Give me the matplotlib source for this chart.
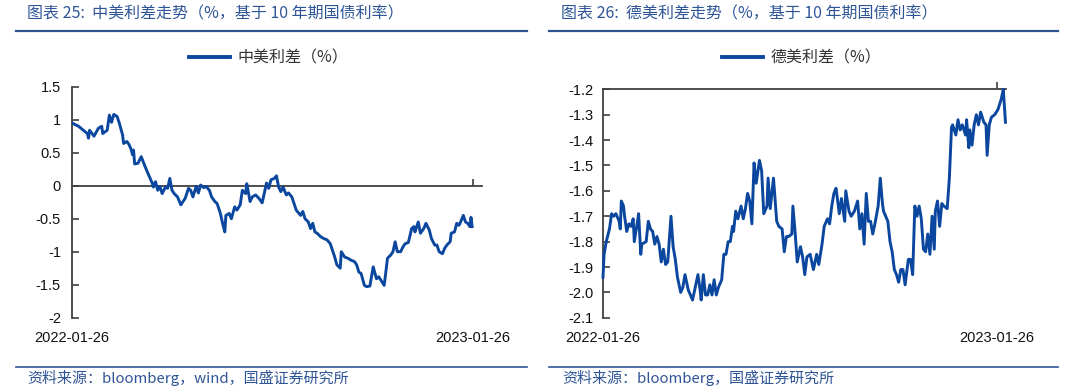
import numpy as np
import pandas as pd
import matplotlib
matplotlib.use("Agg")
import matplotlib.pyplot as plt
import matplotlib.dates as mdates
from matplotlib.lines import Line2D
from matplotlib.ticker import FuncFormatter

plt.rcParams['font.family'] = ['Noto Sans CJK SC', 'DejaVu Sans']
plt.rcParams['axes.unicode_minus'] = False

start = pd.Timestamp("2022-01-26")
end = pd.Timestamp("2023-01-26")

# 中美利差: days since 2022-01-26, spread (%)
cn_days = [0, 6, 14, 15, 16, 20, 24, 27, 28, 32, 34, 36, 38, 41, 43, 46, 47, 50, 52, 54,
           55, 56, 57, 60, 63, 66, 69, 73, 74, 76, 78, 80, 82, 85, 87, 89, 91, 93, 96, 99,
           103, 106, 108, 110, 113, 115, 117, 120, 122, 125, 127, 130, 132, 135, 137, 139, 140, 143, 145, 148,
           150, 153, 155, 158, 159, 162, 164, 167, 170, 173, 177, 179, 181, 184, 186, 188, 190, 192, 195, 197,
           200, 202, 204, 208, 210, 212, 215, 217, 219, 221, 223, 226, 229, 232, 235, 237, 239, 241, 244, 245,
           248, 251, 254, 257, 259, 261, 263, 266, 268, 271, 273, 274, 277, 279, 281, 284, 285, 287, 290, 292,
           294, 296, 299, 301, 303, 306, 309, 311, 312, 315, 317, 320, 322, 325, 327, 330, 332, 334, 337, 339,
           341, 344, 345, 348, 350, 352, 353, 356, 358, 360, 362, 363, 364]
cn_vals = [0.95, 0.90, 0.79, 0.72, 0.84, 0.75, 0.87, 0.90, 0.79, 0.84, 1.07, 0.96, 1.08, 1.05, 0.95, 0.77, 0.64, 0.67, 0.62, 0.54,
           0.47, 0.54, 0.33, 0.34, 0.44, 0.31, 0.19, 0.04, -0.02, 0.06, -0.07, -0.01, -0.12, -0.02, -0.04, 0.11, -0.07, -0.12, -0.17, -0.29,
           -0.19, -0.04, -0.07, -0.17, -0.01, -0.11, 0.01, -0.03, -0.01, -0.07, -0.17, -0.24, -0.27, -0.42, -0.57, -0.70, -0.45, -0.42, -0.50, -0.32,
           -0.37, -0.29, -0.07, -0.12, 0.03, -0.24, -0.17, -0.14, -0.19, -0.26, 0.04, -0.04, 0.09, 0.11, 0.15, -0.02, -0.09, -0.02, -0.14, -0.11,
           -0.17, -0.27, -0.37, -0.45, -0.39, -0.50, -0.55, -0.65, -0.57, -0.70, -0.72, -0.77, -0.80, -0.82, -0.88, -0.98, -1.08, -1.20, -1.25, -1.00,
           -1.08, -1.10, -1.13, -1.15, -1.20, -1.31, -1.33, -1.51, -1.53, -1.52, -1.33, -1.23, -1.41, -1.38, -1.43, -1.51, -1.38, -1.10, -1.05, -1.00,
           -0.85, -1.00, -1.00, -0.93, -0.88, -0.86, -0.65, -0.62, -0.70, -0.55, -0.72, -0.65, -0.57, -0.67, -0.80, -0.90, -0.90, -1.00, -1.03, -0.95,
           -0.90, -0.85, -0.72, -0.70, -0.57, -0.60, -0.57, -0.45, -0.55, -0.57, -0.62, -0.48, -0.62]

# 德美利差: days since 2022-01-26, spread (%)
de_days = [0, 1, 3, 6, 8, 10, 12, 15, 16, 17, 19, 20, 22, 24, 26, 28, 29, 32, 33, 35,
           36, 40, 42, 44, 46, 48, 50, 52, 54, 56, 58, 60, 63, 65, 67, 69, 72, 74, 76, 79,
           81, 83, 86, 88, 90, 91, 93, 95, 97, 99, 101, 103, 105, 107, 110, 112, 114, 116, 118, 120,
           121, 123, 125, 128, 130, 132, 134, 136, 138, 140, 142, 145, 147, 149, 152, 153, 155, 158, 161, 163,
           166, 168, 170, 172, 175, 176, 178, 180, 183, 185, 187, 189, 192, 195, 198, 200, 203, 205, 208, 210,
           212, 214, 216, 219, 221, 224, 225, 228, 230, 233, 236, 238, 240, 242, 244, 246, 248, 250, 252, 255,
           257, 259, 260, 264, 266, 268, 270, 272, 274, 276, 278, 280, 283, 285, 287, 289, 291, 293, 295, 297,
           299, 301, 303, 305, 307, 308, 310, 312, 314, 316, 319, 321, 323, 324, 327, 329, 331, 333, 336, 337,
           339, 340, 342, 344, 346, 348, 350, 353, 355, 356, 358, 360, 363, 366, 369, 371, 373]
de_vals = [-1.94, -1.85, -1.80, -1.75, -1.69, -1.70, -1.69, -1.72, -1.75, -1.64, -1.66, -1.70, -1.76, -1.73, -1.74, -1.71, -1.80, -1.72, -1.69, -1.85,
           -1.81, -1.80, -1.72, -1.75, -1.76, -1.81, -1.78, -1.81, -1.88, -1.83, -1.89, -1.88, -1.70, -1.82, -1.87, -1.94, -2.00, -1.98, -1.93, -1.99,
           -2.01, -2.03, -1.97, -1.93, -1.99, -2.03, -1.93, -2.01, -2.01, -1.97, -2.01, -1.95, -2.01, -1.98, -1.95, -1.85, -1.85, -1.80, -1.80, -1.74,
           -1.76, -1.68, -1.71, -1.66, -1.71, -1.67, -1.61, -1.64, -1.73, -1.49, -1.57, -1.48, -1.52, -1.69, -1.66, -1.55, -1.67, -1.55, -1.72, -1.74,
           -1.75, -1.84, -1.78, -1.78, -1.77, -1.66, -1.76, -1.88, -1.82, -1.86, -1.93, -1.86, -1.85, -1.91, -1.85, -1.89, -1.81, -1.74, -1.71, -1.73,
           -1.66, -1.61, -1.59, -1.69, -1.63, -1.72, -1.60, -1.68, -1.70, -1.68, -1.64, -1.75, -1.69, -1.81, -1.61, -1.72, -1.72, -1.77, -1.73, -1.66,
           -1.55, -1.65, -1.68, -1.72, -1.80, -1.84, -1.91, -1.93, -1.96, -1.91, -1.91, -1.97, -1.87, -1.87, -1.93, -1.66, -1.70, -1.66, -1.71, -1.83,
           -1.84, -1.77, -1.85, -1.70, -1.83, -1.68, -1.64, -1.74, -1.65, -1.66, -1.67, -1.55, -1.35, -1.34, -1.38, -1.32, -1.36, -1.34, -1.38, -1.32,
           -1.43, -1.36, -1.42, -1.34, -1.30, -1.34, -1.29, -1.33, -1.34, -1.46, -1.34, -1.31, -1.30, -1.28, -1.24, -1.20, -1.33]

cn_yticks = [-2, -1.5, -1, -0.5, 0, 0.5, 1, 1.5]
de_yticks = [-2.1, -2.0, -1.9, -1.8, -1.7, -1.6, -1.5, -1.4, -1.3, -1.2]
date_labels = ["2022-01-26", "2023-01-26"]

blue = '#2F5597'
line_c = '#0B479E'
axis_c = '#404040'
tick_font = 'Liberation Sans'

fig = plt.figure(figsize=(10.8, 3.92), dpi=100)
W, H = 1080, 392


def fx(px):
    return px / W


def fy(py):
    return 1 - py / H


def header(x0, x1, tx, title, legend_label, ax, leg_cx):
    fig.text(fx(tx), fy(14), title, ha='left', va='center', fontsize=11.5, color=blue)
    fig.add_artist(Line2D([fx(x0), fx(x1)], [fy(30.5)] * 2, color=blue, lw=1.6))
    h = Line2D([], [], color=line_c, lw=2.8)
    ax.legend([h], [legend_label], loc='center', bbox_to_anchor=(fx(leg_cx), fy(58)),
              bbox_transform=fig.transFigure, frameon=False, fontsize=11.5,
              handlelength=2.6, handletextpad=0.45, labelcolor='#333333')


def footer(x0, x1, tx, src):
    fig.add_artist(Line2D([fx(x0), fx(x1)], [fy(367)] * 2, color=blue, lw=1.2))
    fig.text(fx(tx), fy(378), src, ha='left', va='center', fontsize=10.8, color=blue)


def style(ax, ymin, ymax, yticks, fmt, pad, xend_days):
    ax.set_xlim(start, start + pd.Timedelta(days=xend_days))
    ax.set_ylim(ymin, ymax)
    ax.set_yticks(yticks)
    ax.yaxis.set_major_formatter(FuncFormatter(fmt))
    ax.tick_params(axis='y', direction='in', length=5, width=1.2, color=axis_c,
                   pad=pad, labelsize=10.5, labelcolor='#111111')
    for lab in ax.get_yticklabels():
        lab.set_family(tick_font)
    ax.spines['left'].set_color(axis_c)
    ax.spines['left'].set_linewidth(1.3)
    ax.spines['right'].set_visible(False)
    for x, lab in zip([start, end], date_labels):
        ax.text(x, -0.09, lab, transform=ax.get_xaxis_transform(), ha='center', va='center',
                fontsize=10.5, family=tick_font, color='#111111')


# left: 中美利差
ax1 = fig.add_axes([fx(72), fy(317.7), fx(482) - fx(72), fy(86.7) - fy(317.7)])
ax1.plot(start + pd.to_timedelta(cn_days, unit='D'), cn_vals, color=line_c, lw=2.1, zorder=3)
style(ax1, -2, 1.5, cn_yticks, lambda v, p: f'{v:g}', 8, 373)
ax1.spines['bottom'].set_position(('data', 0))
ax1.spines['bottom'].set_color(axis_c)
ax1.spines['bottom'].set_linewidth(1.3)
ax1.spines['top'].set_visible(False)
ax1.set_xticks([end])
ax1.tick_params(axis='x', direction='in', length=5, width=1.2, color=axis_c, labelbottom=False)
header(16, 527, 27, '图表 25:  中美利差走势（%，基于 10 年期国债利率）', '中美利差（%）', ax1, 268.5)
footer(16, 527, 27, '资料来源：bloomberg，wind，国盛证券研究所')

# right: 德美利差
ax2 = fig.add_axes([fx(603), fy(317.8), fx(1006) - fx(603), fy(89.3) - fy(317.8)])
ax2.plot(start + pd.to_timedelta(de_days, unit='D'), de_vals, color=line_c, lw=2.1, zorder=3,
         clip_on=False)
style(ax2, -2.1, -1.2, de_yticks, lambda v, p: f'{v:.1f}', 7, 373.5)
ax2.spines['bottom'].set_visible(False)
ax2.spines['top'].set_color(axis_c)
ax2.spines['top'].set_linewidth(1.3)
ax2.xaxis.tick_top()
ax2.set_xticks([end])
ax2.tick_params(axis='x', direction='out', length=5, width=1.2, color=axis_c, labeltop=False)
header(549, 1058, 561, '图表 26:  德美利差走势（%，基于 10 年期国债利率）', '德美利差（%）', ax2, 801.5)
footer(549, 1058, 562, '资料来源：bloomberg，国盛证券研究所')

fig.savefig('out.png', dpi=100)
